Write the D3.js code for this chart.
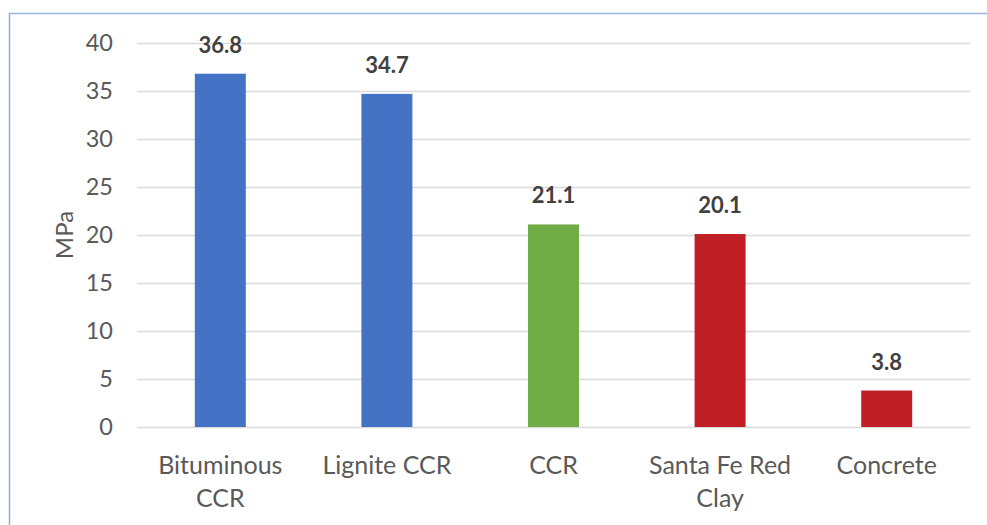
<!DOCTYPE html>
<html><head><meta charset="utf-8">
<script src="https://cdn.jsdelivr.net/npm/d3@7/dist/d3.min.js"></script>
<style>body{margin:0;background:#fff}svg{display:block}</style>
</head><body>
<svg id="chart" width="987" height="525"></svg>
<script>
const categories = [["Bituminous","CCR"],["Lignite CCR"],["CCR"],["Santa Fe Red","Clay"],["Concrete"]];
const values = [36.8, 34.7, 21.1, 20.1, 3.8];
const barColors = ["#4472C4","#4472C4","#70AD47","#C01F26","#C01F26"];
const yTicks = [0,5,10,15,20,25,30,35,40];
const yLabel = "MPa";

const svg = d3.select("#chart");
const font = "Lato, 'Open Sans', sans-serif";
const mLeft = 137, mRight = 970, mTop = 43, mBottom = 427;

// border
svg.append("line").attr("x1",9.5).attr("x2",9.5).attr("y1",13).attr("y2",525).attr("stroke","#8FAADC").attr("stroke-width",1.5);
svg.append("line").attr("x1",9).attr("x2",987).attr("y1",13.5).attr("y2",13.5).attr("stroke","#9DB4DC").attr("stroke-width",1.5);

const keys = categories.map((c,i)=>i);
const x = d3.scaleBand().domain(keys).range([mLeft,mRight]).paddingInner(0.694).paddingOuter(0.347);
const y = d3.scaleLinear().domain([0,40]).range([mBottom,mTop]);

// gridlines
const yAxis = d3.axisLeft(y).tickValues(yTicks).tickSize(-(mRight-mLeft)).tickPadding(24);
const g = svg.append("g").attr("transform",`translate(${mLeft},0)`).call(yAxis);
g.select(".domain").remove();
g.selectAll(".tick line").attr("stroke","#D9D9D9").attr("stroke-width",1.5);
g.selectAll(".tick text").attr("fill","#595959").style("font-family",font).style("font-size","23.5px");

// bars
svg.append("g").selectAll("rect").data(values).join("rect")
  .attr("x",(d,i)=>x(i)).attr("width",x.bandwidth())
  .attr("y",d=>y(d)).attr("height",d=>y(0)-y(d))
  .attr("fill",(d,i)=>barColors[i]);

// value labels
svg.append("g").selectAll("text").data(values).join("text")
  .attr("x",(d,i)=>x(i)+x.bandwidth()/2).attr("y",d=>y(d)-21)
  .attr("text-anchor","middle").attr("fill","#404040")
  .style("font-family",font).style("font-size","22px").style("font-weight","bold")
  .text(d=>d.toFixed(1));

// category labels
const cl = svg.append("g").selectAll("text").data(categories).join("text")
  .attr("x",(d,i)=>x(i)+x.bandwidth()/2).attr("y",474)
  .attr("text-anchor","middle").attr("fill","#595959")
  .style("font-family",font).style("font-size","25px");
cl.selectAll("tspan").data(d=>d).join("tspan")
  .attr("x",function(){return d3.select(this.parentNode).attr("x");})
  .attr("dy",(d,i)=>i===0?0:33).text(d=>d);

// y label
svg.append("text").attr("transform",`translate(73,235) rotate(-90)`)
  .attr("text-anchor","middle").attr("fill","#595959")
  .style("font-family",font).style("font-size","24px").text(yLabel);
</script>
</body></html>
